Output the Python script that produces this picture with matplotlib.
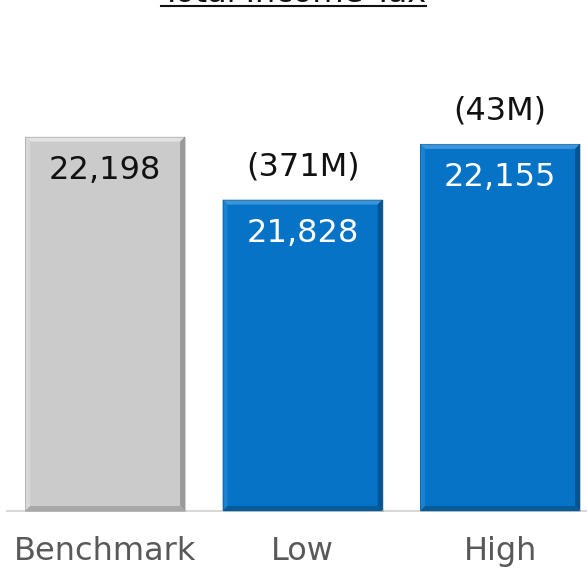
import matplotlib
matplotlib.use("Agg")
import matplotlib.pyplot as plt
from matplotlib.patches import Polygon
from matplotlib.transforms import IdentityTransform

categories = ["Benchmark", "Low", "High"]
values = [22198, 21828, 22155]
value_labels = ["22,198", "21,828", "22,155"]
diff_labels = ["", "(371M)", "(43M)"]
title = "Total Income Tax"

W, H, DPI = 587, 569, 100
fig = plt.figure(figsize=(W / DPI, H / DPI), dpi=DPI)
fig.patch.set_facecolor("white")

ax_left_px, ax_bottom_px = 7.5, H - 511
ax = fig.add_axes([ax_left_px / W, ax_bottom_px / H, 1 - ax_left_px / W, 1 - ax_bottom_px / H])
ax.set_xlim(-0.494, 2.44)
ax.set_ylim(20000, 23000)

fills = ["#CBCBCB", "#0673C6", "#0673C6"]
tops = ["#E2E2E2", "#3C95DA", "#3C95DA"]
lefts = ["#D8D8D8", "#1A82D0", "#1A82D0"]
rights = ["#9A9A9A", "#04558F", "#04558F"]
bottoms = ["#A8A8A8", "#045C9C", "#045C9C"]
text_colors = ["#111111", "white", "white"]

x = list(range(len(categories)))
bars = ax.bar(x, [v - 20000 for v in values], bottom=20000, width=0.81, color=fills,
              edgecolor="none", zorder=2)

fig.canvas.draw()
bv = 5
for b, tc, lc, rc, bc in zip(bars, tops, lefts, rights, bottoms):
    ext = b.get_window_extent()
    x0, y0, x1, y1 = ext.x0, ext.y0, ext.x1, ext.y1
    polys = [
        ([(x0, y1), (x1, y1), (x1 - bv, y1 - bv), (x0 + bv, y1 - bv)], tc),
        ([(x0, y0), (x0, y1), (x0 + bv, y1 - bv), (x0 + bv, y0 + bv)], lc),
        ([(x1, y0), (x1, y1), (x1 - bv, y1 - bv), (x1 - bv, y0 + bv)], rc),
        ([(x0, y0), (x1, y0), (x1 - bv, y0 + bv), (x0 + bv, y0 + bv)], bc),
    ]
    for pts, c in polys:
        ax.add_patch(Polygon(pts, closed=True, facecolor=c, edgecolor="none",
                             transform=IdentityTransform(), zorder=3, clip_on=False))
    ax.add_patch(Polygon([(x0, y0), (x1, y0), (x1, y1), (x0, y1)], closed=True,
                         facecolor="none", edgecolor="#00000030", linewidth=0.6,
                         transform=IdentityTransform(), zorder=4, clip_on=False))

fs = 23
for xi, v, lab, tc in zip(x, values, value_labels, text_colors):
    ax.annotate(lab, (xi, v), xytext=(0, -24.5), textcoords="offset points",
                ha="center", va="center", fontsize=fs, color=tc, zorder=5)
for xi, v, d in zip(x, values, diff_labels):
    if d:
        ax.annotate(d, (xi, v), xytext=(0, 23.5), textcoords="offset points",
                    ha="center", va="center", fontsize=fs, color="#111111", zorder=5)

for s in ["top", "right", "left"]:
    ax.spines[s].set_visible(False)
ax.spines["bottom"].set_color("#D9D9D9")
ax.spines["bottom"].set_linewidth(1.5)
ax.set_yticks([])
ax.set_xticks(x)
ax.set_xticklabels(categories, fontsize=fs, color="#595959")
ax.tick_params(axis="x", length=0, pad=18)

t = fig.text(0.5, 1 - 2 / H, title, ha="center", va="baseline", fontsize=fs, color="#111111")
fig.canvas.draw()
te = t.get_window_extent()
fig.add_artist(plt.Line2D([te.x0 / W, te.x1 / W], [1 - 5.5 / H, 1 - 5.5 / H],
                          transform=fig.transFigure, color="#111111", linewidth=1.5))

fig.savefig("out.png", dpi=DPI, facecolor="white")
